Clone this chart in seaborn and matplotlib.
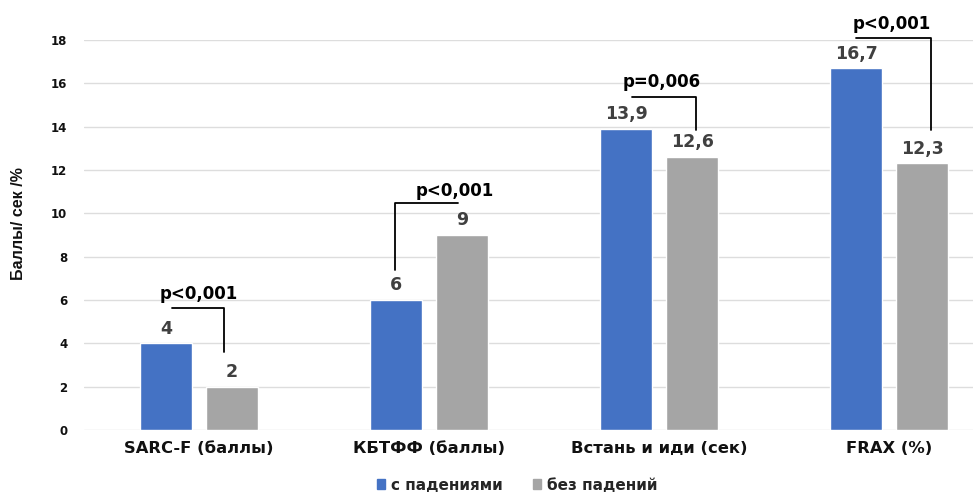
import matplotlib
matplotlib.use("Agg")
import matplotlib.pyplot as plt
import seaborn as sns
import pandas as pd

categories = ["SARC-F (баллы)", "КБТФФ (баллы)", "Встань и иди (сек)", "FRAX (%)"]
groups = ["с падениями", "без падений"]
with_falls = [4, 6, 13.9, 16.7]
without_falls = [2, 9, 12.6, 12.3]
p_labels = ["p<0,001", "p<0,001", "p=0,006", "p<0,001"]
y_ticks = [0, 2, 4, 6, 8, 10, 12, 14, 16, 18]

colors = {"с падениями": "#4472C4", "без падений": "#A5A5A5"}

df = pd.DataFrame({
    "category": categories * 2,
    "group": [groups[0]] * len(categories) + [groups[1]] * len(categories),
    "value": with_falls + without_falls,
})

sns.set_theme(style="white")
plt.rcParams["font.family"] = ["DejaVu Sans"]

fig = plt.figure(figsize=(9.73, 4.94), dpi=100)
ax = fig.add_axes([84 / 973, 1 - 430 / 494, 920 / 973, 390 / 494])

sns.barplot(data=df, x="category", y="value", hue="group", order=categories,
            hue_order=groups, palette=colors, width=0.574, gap=0.21,
            saturation=1, errorbar=None, ax=ax, legend=False)

ax.set_xlim(-0.5, 3.5)
ax.set_ylim(0, 18)
ax.set_yticks(y_ticks)
ax.set_yticklabels([str(t) for t in y_ticks], fontsize=8.5, fontweight="bold", color="#111111")
ax.yaxis.grid(True, color="#DDDDDD", linewidth=1)
ax.set_axisbelow(True)
for s in ax.spines.values():
    s.set_visible(False)
ax.tick_params(axis="both", length=0)
ax.tick_params(axis="y", pad=12)
ax.tick_params(axis="x", pad=8)
for lbl in ax.get_xticklabels():
    lbl.set_fontsize(11.8)
    lbl.set_fontweight("bold")
    lbl.set_color("#111111")
ax.set_xlabel("")
ax.set_ylabel("")

fig.text(19 / 973, 1 - 224 / 494, "Баллы/ сек /%", rotation=90, ha="center", va="center",
         fontsize=11.5, fontweight="bold", color="#111111",
         family=["Liberation Sans Narrow", "Liberation Sans", "DejaVu Sans"])

def fmt(v):
    return (f"{v:g}").replace(".", ",")

for cont in ax.containers:
    ax.bar_label(cont, labels=[fmt(b.get_height()) for b in cont], padding=4,
                 fontsize=12.5, fontweight="bold", color="#404040")

# significance brackets: (x_start, x_end, y_top, y_bottom, text x, text y)
brackets = [
    (-0.117, 0.109, 5.63, 3.6, 0.0, 6.3),
    (-0.146, 0.126, 10.48, 7.38, 0.11, 11.05),
    (-0.117, 0.161, 15.37, 13.84, 0.013, 16.05),
    (-0.143, 0.183, 18.1, 13.84, 0.013, 18.75),
]
for i, (x0, x1, yt, yb, tx, ty) in enumerate(brackets):
    if i == 1:
        ax.plot([i + x0, i + x0, i + x1], [yb, yt, yt], color="black", lw=1.3, clip_on=False)
    else:
        ax.plot([i + x0, i + x1, i + x1], [yt, yt, yb], color="black", lw=1.3, clip_on=False)
    ax.text(i + tx, ty, p_labels[i], ha="center", va="center", fontsize=12,
            fontweight="bold", color="black", clip_on=False)

handles = [plt.Rectangle((0, 0), 1, 1, color=colors[g]) for g in groups]
fig.legend(handles, groups, loc="center", bbox_to_anchor=(517 / 973, 1 - 485 / 494),
           ncol=2, frameon=False, handlelength=0.55, handleheight=0.55, handletextpad=0.35,
           columnspacing=2.0, prop={"weight": "bold", "size": 11})

fig.savefig("out.png", dpi=100)
